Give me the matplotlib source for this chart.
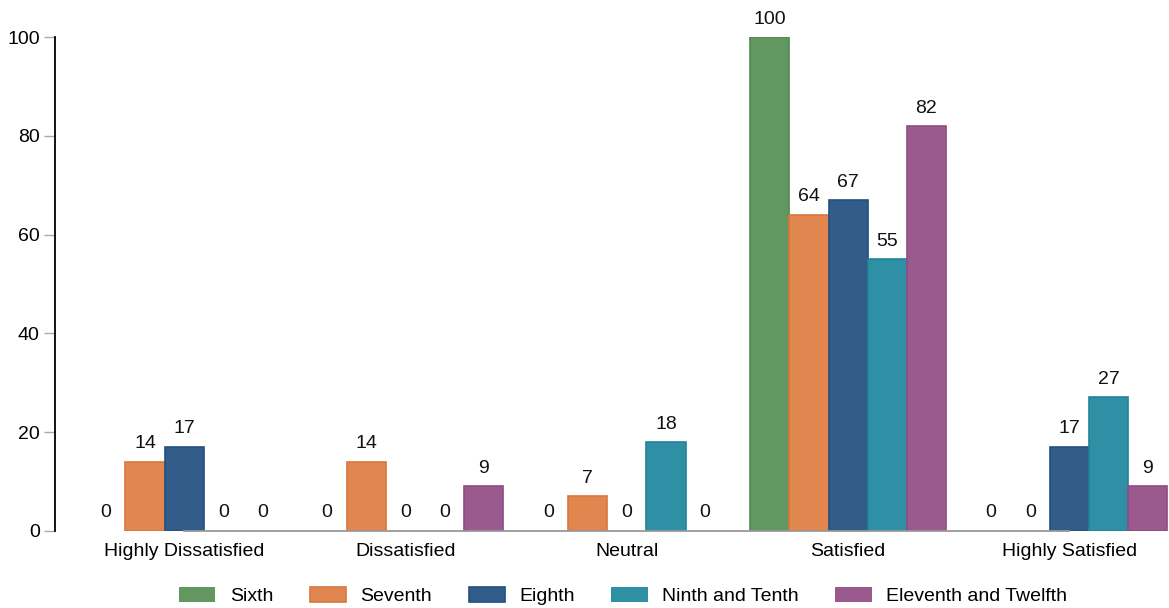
import numpy as np
import matplotlib.pyplot as plt

plt.rcParams['font.family'] = ['Liberation Sans', 'DejaVu Sans']

# survey responses (percent) by grade group
categories = ['Highly Dissatisfied', 'Dissatisfied', 'Neutral', 'Satisfied', 'Highly Satisfied']
groups = ['Sixth', 'Seventh', 'Eighth', 'Ninth and Tenth', 'Eleventh and Twelfth']
sixth = [0, 0, 0, 100, 0]
seventh = [14, 14, 7, 64, 0]
eighth = [17, 0, 0, 67, 17]
ninth_tenth = [0, 0, 18, 55, 27]
eleventh_twelfth = [0, 9, 0, 82, 9]

series = [sixth, seventh, eighth, ninth_tenth, eleventh_twelfth]
colors = ['#629762', '#e1864f', '#325d8a', '#2f8fa4', '#9a5a8e']
edges = ['#4f8a50', '#d9773f', '#24507e', '#22839a', '#8d4c82']
fs = 14

fig = plt.figure(figsize=(11.69, 6.08), dpi=100)
ax = fig.add_axes([0.047, 0.127, 0.953, 0.812])

x = np.arange(len(categories))
w = 0.177
for i, (vals, name) in enumerate(zip(series, groups)):
    pos = x + (i - 2) * w
    # no outline on empty bars
    lw = [1.2 if v > 0 else 0 for v in vals]
    bars = ax.bar(pos, vals, width=w, color=colors[i], edgecolor=edges[i],
                  linewidth=lw, label=name)
    for b, v in zip(bars, vals):
        ax.text(b.get_x() + b.get_width() / 2, v + 1.9, str(v),
                ha='center', va='bottom', fontsize=fs, color='#111111')

ax.set_xlim(-0.584, 4.45)
ax.set_ylim(0, 100)
ax.set_yticks([0, 20, 40, 60, 80, 100])
ax.set_xticks(x)
ax.set_xticklabels(categories, fontsize=fs)
ax.tick_params(axis='y', labelsize=fs, length=8, color='#aaaaaa', width=1.0, pad=3)
ax.tick_params(axis='x', length=0, pad=9)

for s in ['top', 'right']:
    ax.spines[s].set_visible(False)
ax.spines['left'].set_color('black')
ax.spines['left'].set_linewidth(1.3)
ax.spines['bottom'].set_color('#999999')
ax.spines['bottom'].set_linewidth(1.3)
ax.spines['bottom'].set_bounds(0, 4)

ax.legend(loc='upper center', bbox_to_anchor=(0.51, -0.078), ncol=5,
          frameon=False, fontsize=fs, handlelength=1.87, handleheight=0.85,
          columnspacing=1.87, handletextpad=0.75)

fig.savefig('out.png', dpi=100)
